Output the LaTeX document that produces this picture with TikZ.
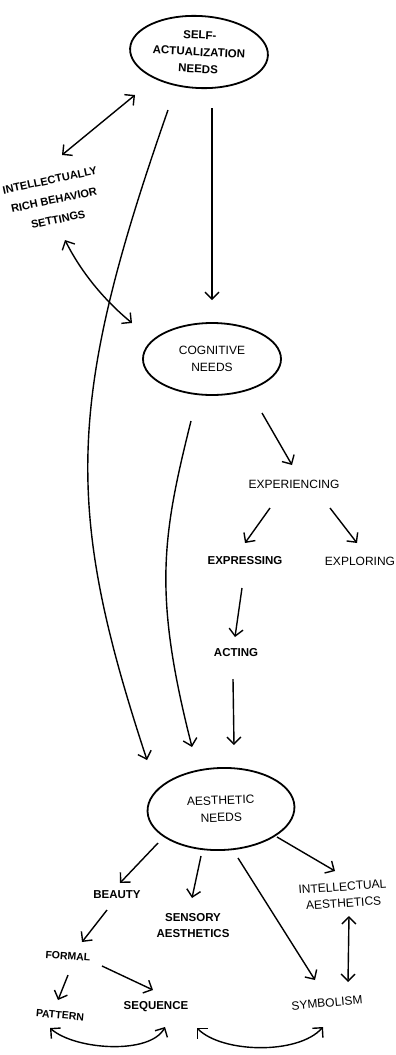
\documentclass[tikz,border=0pt]{standalone}
\usepackage{fontspec}
\setmainfont{Liberation Sans}
\usetikzlibrary{arrows.meta, shapes.geometric}

\begin{document}
\begin{tikzpicture}[x=1pt, y=-1pt,
    needs/.style={ellipse, draw, line width=1.8pt, inner sep=0pt,
                  minimum width=138pt, minimum height=72pt, align=center,
                  font=\fontsize{12}{17}\selectfont},
    tag/.style={align=center, inner sep=1pt, font=\fontsize{12}{16}\selectfont},
    tagb/.style={tag, font=\bfseries\fontsize{11.5}{16}\selectfont},
    link/.style={line width=1.4pt, -{Straight Barb[length=7pt,width=14pt]}},
    twoway/.style={line width=1.4pt,
                   {Straight Barb[length=7pt,width=14pt]}-{Straight Barb[length=7pt,width=14pt]}},
  ]
    \useasboundingbox (0,0) rectangle (396,1055);

    % the three needs
    \node[needs, rotate=-3, font=\bfseries\fontsize{11.5}{17}\selectfont] (sa) at (199,52) {SELF-\\ACTUALIZATION\\NEEDS};
    \node[needs] (cog) at (212,359) {COGNITIVE\\NEEDS};
    \node[needs, minimum width=147pt, minimum height=82pt, rotate=2] (ae) at (221,809) {AESTHETIC\\NEEDS};

    % labels
    \node[tagb, rotate=12, font=\bfseries\fontsize{11}{20}\selectfont] (irb) at (54,200) {INTELLECTUALLY\\RICH BEHAVIOR\\SETTINGS};
    \node[tag] (exper) at (294,484) {EXPERIENCING};
    \node[tagb] (expr) at (245,561) {EXPRESSING};
    \node[tag] (explo) at (360,561) {EXPLORING};
    \node[tagb] (act) at (236,653) {ACTING};
    \node[tagb] (beauty) at (117,895) {BEAUTY};
    \node[tagb] (sens) at (193,926) {SENSORY\\AESTHETICS};
    \node[tag, rotate=4, font=\fontsize{12}{16.5}\selectfont] (intae) at (343,895) {INTELLECTUAL\\AESTHETICS};
    \node[tagb, rotate=-4, font=\bfseries\fontsize{10.5}{16}\selectfont] (formal) at (68,956) {FORMAL};
    \node[tagb, rotate=-5, font=\bfseries\fontsize{10.5}{16}\selectfont] (pattern) at (60,1015) {PATTERN};
    \node[tagb] (seq) at (156,1007) {SEQUENCE};
    \node[tag, rotate=5] (symb) at (327,1003) {SYMBOLISM};

    % upper part
    \draw[twoway] ([shift={(-64,43)}]sa.center) -- ([shift={(8,-45)}]irb.center);
    \draw[twoway] ([shift={(11,40)}]irb.center) .. controls +(16,32) and +(-28,-23) .. ([shift={(-80,-36)}]cog.center);
    \draw[link] ([shift={(13,56)}]sa.center) -- ([shift={(0,-59)}]cog.center);
    \draw[link] ([shift={(-31,58)}]sa.center) .. controls +(-102,292) and +(-83,-252) .. ([shift={(-74,-49)}]ae.center);
    \draw[link] ([shift={(-21,62)}]cog.center) .. controls +(-29,116) and +(-39,-153) .. ([shift={(-29,-62)}]ae.center);

    % cognitive branch
    \draw[link] ([shift={(50,54)}]cog.center) -- ([shift={(-2,-19)}]exper.center);
    \draw[link] ([shift={(-24,24)}]exper.center) -- ([shift={(0,-18)}]expr.center);
    \draw[link] ([shift={(36,24)}]exper.center) -- ([shift={(-3,-18)}]explo.center);
    \draw[link] ([shift={(-3,27)}]expr.center) -- ([shift={(-1,-16)}]act.center);
    \draw[link] ([shift={(-3,26)}]act.center) -- ([shift={(13,-64)}]ae.center);

    % aesthetic branch
    \draw[link] ([shift={(-63,34)}]ae.center) -- ([shift={(3,-12)}]beauty.center);
    \draw[link] ([shift={(-20,47)}]ae.center) -- ([shift={(-1,-28)}]sens.center);
    \draw[link] ([shift={(17,49)}]ae.center) -- ([shift={(-12,-23)}]symb.center);
    \draw[link] ([shift={(56,28)}]ae.center) -- ([shift={(-8,-24)}]intae.center);
    \draw[twoway] ([shift={(6,21)}]intae.center) -- ([shift={(21,-21)}]symb.center);
    \draw[link] ([shift={(-10,15)}]beauty.center) -- ([shift={(14,-14)}]formal.center);
    \draw[link] ([shift={(0,19)}]formal.center) -- ([shift={(-2,-15)}]pattern.center);
    \draw[link] ([shift={(34,10)}]formal.center) -- ([shift={(-3,-17)}]seq.center);
    \draw[twoway] ([shift={(-10,13)}]pattern.center) .. controls +(25,22) and +(-15,28) .. ([shift={(9,20)}]seq.center);
    \draw[twoway] ([shift={(41,21)}]seq.center) .. controls +(25,25) and +(-25,28) .. ([shift={(-4,24)}]symb.center);
  \end{tikzpicture}
\end{document}
